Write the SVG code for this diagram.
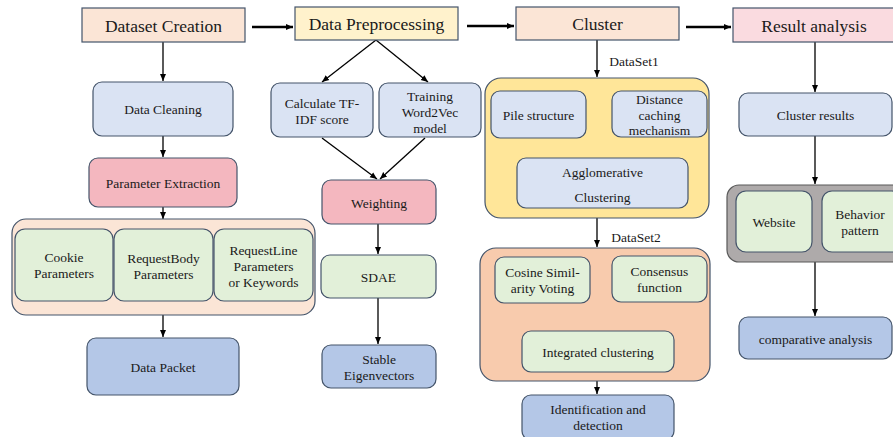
<svg xmlns="http://www.w3.org/2000/svg" width="893" height="437" viewBox="0 0 893 437">
<defs>
<marker id="ah" markerWidth="8" markerHeight="8" refX="7" refY="4" orient="auto" markerUnits="userSpaceOnUse">
<path d="M0,1 L7,4 L0,7 z" fill="#000"/>
</marker>
<style>
text{font-family:"Liberation Serif","DejaVu Serif",serif;fill:#1a1a1a;text-anchor:middle;dominant-baseline:central}
.h{font-size:17.5px}
.t{font-size:13.5px}
.hd{stroke:#44546a;stroke-width:1.2}
.n{stroke:#44546a;stroke-width:1.2}
.lb{fill:#dae3f3}
.pk{fill:#f4b7bf}
.gr{fill:#e2f0d9}
.bl{fill:#b4c7e7}
.ln{stroke:#000;stroke-width:1.3;fill:none;marker-end:url(#ah)}
.lt{stroke:#000;stroke-width:2.5;fill:none;marker-end:url(#ah)}
</style>
</defs>
<rect width="893" height="437" fill="#fff"/>

<g id="connectors">
<path class="lt" d="M252,27 H293"/>
<path class="lt" d="M467,26 H514"/>
<path class="lt" d="M686,27 H731"/>
<path class="ln" d="M163,42 V81"/>
<path class="ln" d="M163,136 V157"/>
<path class="ln" d="M163,207 V219"/>
<path class="ln" d="M163,315 V337"/>
<path class="ln" d="M376,40 L322,82"/>
<path class="ln" d="M376,40 L428,82"/>
<path class="ln" d="M322,138 L377,179"/>
<path class="ln" d="M425,138 L380,179"/>
<path class="ln" d="M378,224 V254"/>
<path class="ln" d="M378,298 V344"/>
<path class="ln" d="M597,40 V77"/>
<path class="ln" d="M539,138 L601,157"/>
<path class="ln" d="M657,137 L604,157"/>
<path class="ln" d="M597,218 V247"/>
<path class="ln" d="M543,304 L597,330"/>
<path class="ln" d="M658,302 L600,330"/>
<path class="ln" d="M597,381 V394"/>
<path class="ln" d="M815,42 V92"/>
<path class="ln" d="M815,136 V184"/>
<path class="ln" d="M815,262 V316"/>
<text class="t" x="634" y="61">DataSet1</text>
<text class="t" x="636" y="237">DataSet2</text>
</g>

<g id="dataset-creation"><rect class="hd" x="82" y="8" width="163" height="34" fill="#fbe5d6"/><text class="h" x="163.5" y="26">Dataset Creation</text></g>
<g id="data-preprocessing"><rect class="hd" x="295" y="7" width="163" height="33" fill="#fff2cc"/><text class="h" x="376.5" y="24">Data Preprocessing</text></g>
<g id="cluster"><rect class="hd" x="516" y="7" width="163" height="33" fill="#fbe5d6"/><text class="h" x="597.5" y="24">Cluster</text></g>
<g id="result-analysis"><rect class="hd" x="733" y="8" width="165" height="34" fill="#fadbe0"/><text class="h" x="814" y="26">Result analysis</text></g>

<g id="data-cleaning"><rect class="n lb" x="93" y="82" width="140" height="54" rx="9"/><text class="t" x="163" y="109">Data Cleaning</text></g>
<g id="parameter-extraction"><rect class="n pk" x="89" y="158" width="148" height="49" rx="9"/><text class="t" x="163" y="183">Parameter Extraction</text></g>
<g id="parameters-group"><rect class="n" x="12" y="219" width="303" height="96" rx="14" fill="#fbe5d6"/></g>
<g id="cookie"><rect class="n gr" x="15" y="229" width="98" height="72" rx="10"/><text class="t" x="64" y="257">Cookie</text><text class="t" x="64" y="273">Parameters</text></g>
<g id="requestbody"><rect class="n gr" x="114" y="229" width="99" height="72" rx="10"/><text class="t" x="163.5" y="258">RequestBody</text><text class="t" x="163.5" y="274">Parameters</text></g>
<g id="requestline"><rect class="n gr" x="214" y="229" width="99" height="72" rx="10"/><text class="t" x="263.5" y="250">RequestLine</text><text class="t" x="263.5" y="266">Parameters</text><text class="t" x="263.5" y="282">or Keywords</text></g>
<g id="data-packet"><rect class="n bl" x="87" y="338" width="152" height="57" rx="9"/><text class="t" x="163" y="367">Data Packet</text></g>

<g id="tfidf"><rect class="n lb" x="271" y="83" width="102" height="54" rx="9"/><text class="t" x="322" y="103">Calculate TF-</text><text class="t" x="322" y="119">IDF score</text></g>
<g id="word2vec"><rect class="n lb" x="379" y="83" width="102" height="54" rx="9"/><text class="t" x="430" y="96">Training</text><text class="t" x="430" y="112">Word2Vec</text><text class="t" x="430" y="128">model</text></g>
<g id="weighting"><rect class="n pk" x="322" y="180" width="114" height="44" rx="9"/><text class="t" x="379" y="203">Weighting</text></g>
<g id="sdae"><rect class="n gr" x="321" y="255" width="115" height="43" rx="9"/><text class="t" x="378.5" y="277">SDAE</text></g>
<g id="stable-eigenvectors"><rect class="n bl" x="322" y="345" width="114" height="43" rx="9"/><text class="t" x="379" y="359">Stable</text><text class="t" x="379" y="375">Eigenvectors</text></g>

<g id="dataset1-group"><rect class="n" x="485" y="78" width="224" height="140" rx="16" fill="#ffe699"/></g>
<g id="pile-structure"><rect class="n lb" x="491" y="91" width="95" height="47" rx="9"/><text class="t" x="538.5" y="115">Pile structure</text></g>
<g id="distance-caching"><rect class="n lb" x="612" y="91" width="95" height="46" rx="9"/><text class="t" x="659.5" y="99">Distance</text><text class="t" x="659.5" y="115">caching</text><text class="t" x="659.5" y="130">mechanism</text></g>
<g id="agglomerative"><rect class="n lb" x="517" y="158" width="171" height="50" rx="9"/><text class="t" x="602.5" y="172">Agglomerative</text><text class="t" x="602.5" y="197">Clustering</text></g>

<g id="dataset2-group"><rect class="n" x="480" y="248" width="230" height="133" rx="16" fill="#f8cbad"/></g>
<g id="cosine"><rect class="n gr" x="495" y="257" width="95" height="46" rx="9"/><text class="t" x="542.5" y="272">Cosine Simil-</text><text class="t" x="542.5" y="288">arity Voting</text></g>
<g id="consensus"><rect class="n gr" x="612" y="256" width="95" height="46" rx="9"/><text class="t" x="659.5" y="271">Consensus</text><text class="t" x="659.5" y="287">function</text></g>
<g id="integrated"><rect class="n gr" x="522" y="331" width="152" height="41" rx="9"/><text class="t" x="598" y="352">Integrated clustering</text></g>
<g id="identification"><rect class="n bl" x="522" y="395" width="152" height="45" rx="9"/><text class="t" x="598" y="409">Identification and</text><text class="t" x="598" y="425">detection</text></g>

<g id="cluster-results"><rect class="n lb" x="739" y="93" width="153" height="43" rx="9"/><text class="t" x="815.5" y="115">Cluster results</text></g>
<g id="result-group"><rect x="727" y="185" width="180" height="77" rx="12" fill="#aeaaaa" stroke="#595959" stroke-width="1.2"/></g>
<g id="website"><rect class="n gr" x="736" y="191" width="76" height="61" rx="10"/><text class="t" x="774" y="222">Website</text></g>
<g id="behavior"><rect class="n gr" x="822" y="191" width="80" height="61" rx="10"/><text class="t" x="860" y="214">Behavior</text><text class="t" x="860" y="230">pattern</text></g>
<g id="comparative"><rect class="n bl" x="739" y="317" width="153" height="42" rx="9"/><text class="t" x="815.5" y="339">comparative analysis</text></g>
</svg>
